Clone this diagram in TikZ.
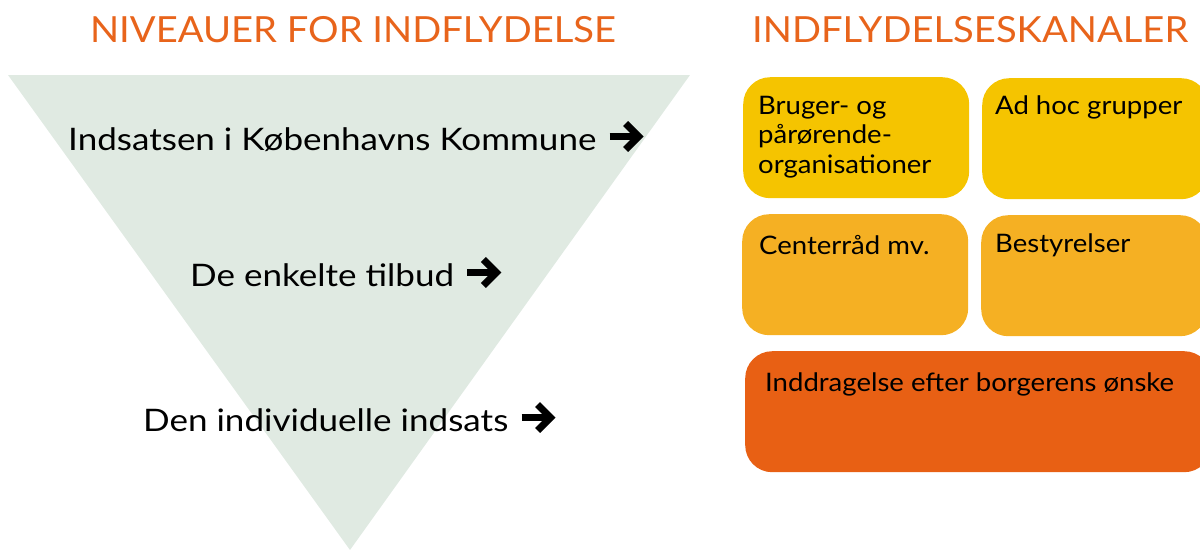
\documentclass[tikz,border=0pt]{standalone}
\usepackage{fontspec}
\setmainfont{Lato}
\newfontfamily\titlefont{Lato}[FakeStretch=1.06]
\newfontfamily\levelfont{Lato}[FakeStretch=1.13]
\newfontfamily\chanfont{Lato}[FakeStretch=1.08]
\definecolor{kkorange}{RGB}{232,100,27}
\definecolor{funnelgreen}{RGB}{224,234,226}
\definecolor{chanyellow}{RGB}{245,196,0}
\definecolor{chanamber}{RGB}{245,176,35}
\definecolor{chanred}{RGB}{232,96,20}
% heavy arrow after a level text
\newcommand{\levelarrow}[1]{%
  \draw[arrowstroke] ([xshift=13pt,yshift=13.5pt]#1.base east) -- ++(28,0);
  \draw[arrowstroke] ([xshift=13pt,yshift=13.5pt]#1.base east) ++(16,-13) -- ++(13,13) -- ++(-13,13);}

\begin{document}
\begin{tikzpicture}[x=1pt, y=-1pt,
    title/.style={text=kkorange, font=\titlefont\fontsize{36}{40}\selectfont, inner sep=0pt, anchor=base},
    level/.style={font=\levelfont\fontsize{31}{34}\selectfont, inner sep=0pt, anchor=base west},
    arrowstroke/.style={line width=7pt, miter limit=4},
    channel/.style={rounded corners=27pt, minimum width=226pt, minimum height=121pt,
                    anchor=north west, inner sep=0pt},
    chantext/.style={font=\chanfont\fontsize{25.5}{29.5}\selectfont, align=left, inner sep=0pt, anchor=base west}]

\useasboundingbox (0,0) rectangle (1200,550);
\clip (0,0) rectangle (1200,550);

% funnel
\fill[funnelgreen] (8,75) -- (690,75) -- (350,550) -- cycle;

\node[title] (levels) at (353,42) {NIVEAUER FOR INDFLYDELSE};
\node[title, anchor=base west] (channels) at (752,42) {INDFLYDELSESKANALER};

\node[level] (kommune) at (68,150) {Indsatsen i Københavns Kommune};
\node[level] (tilbud) at (190,286) {De enkelte tilbud};
\node[level] (individ) at (143,431) {Den individuelle indsats};
\levelarrow{kommune}
\levelarrow{tilbud}
\levelarrow{individ}

% channels
\node[channel, fill=chanyellow] (bruger) at (743,77) {};
\node[channel, fill=chanyellow] (adhoc) at (982,78) {};
\node[channel, fill=chanamber] (center) at (742,214) {};
\node[channel, fill=chanamber] (bestyr) at (981,215) {};
\node[channel, fill=chanred, minimum width=466pt] (borger) at (745,351) {};

\node[chantext] (brugertext) at (758,173) {Bruger- og\\pårørende-\\organisationer};
\node[chantext] (adhoctext) at (995,114) {Ad hoc grupper};
\node[chantext] (centertext) at (759,254) {Centerråd mv.};
\node[chantext] (bestyrtext) at (995,252) {Bestyrelser};
\node[chantext] (borgertext) at (765,391) {Inddragelse efter borgerens ønske};

\end{tikzpicture}
\end{document}
